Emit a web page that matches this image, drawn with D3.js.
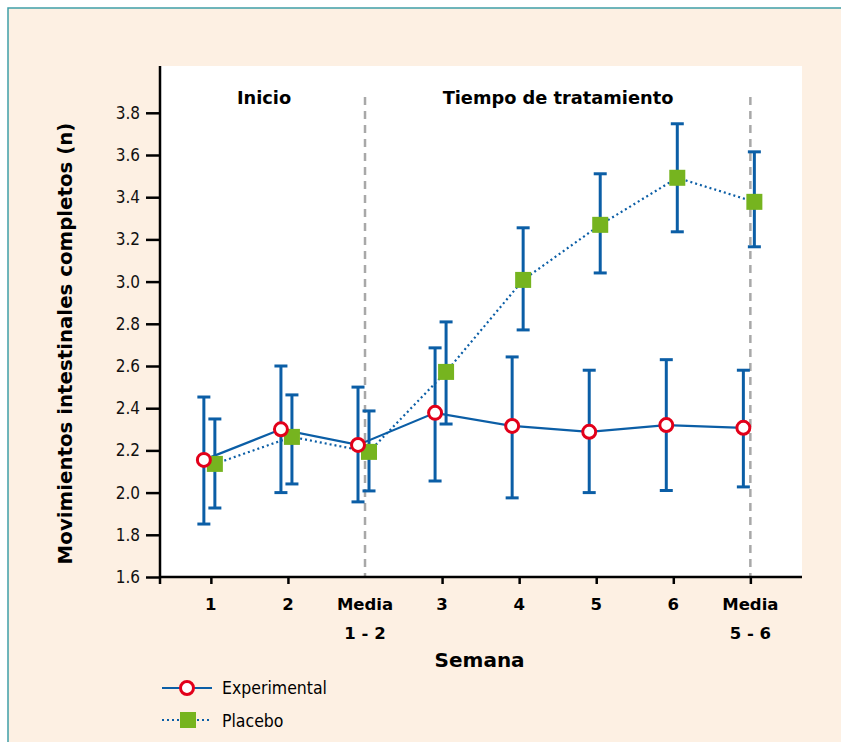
<!DOCTYPE html>
<html>
<head>
<meta charset="utf-8">
<script src="https://cdn.jsdelivr.net/npm/d3@7"></script>
<style>
  body { margin: 0; background: #fff; }
  text { font-family: "DejaVu Sans", sans-serif; }
</style>
</head>
<body>
<svg id="chart" width="841" height="742"></svg>
<script>
// Data
let categories = ["1", "2", "Media|1 - 2", "3", "4", "5", "6", "Media|5 - 6"];
let expMean = [2.155, 2.30, 2.226, 2.378, 2.316, 2.288, 2.32, 2.307];
let expLow  = [1.851, 2.00, 1.956, 2.055, 1.975, 2.00, 2.01, 2.027];
let expHigh = [2.453, 2.60, 2.50, 2.686, 2.643, 2.58, 2.63, 2.58];
let plaMean = [2.136, 2.264, 2.193, 2.572, 3.008, 3.269, 3.492, 3.378];
let plaLow  = [1.927, 2.041, 2.008, 2.325, 2.771, 3.041, 3.236, 3.165];
let plaHigh = [2.349, 2.463, 2.387, 2.809, 3.255, 3.511, 3.748, 3.615];
let yTicks = [1.6, 1.8, 2.0, 2.2, 2.4, 2.6, 2.8, 3.0, 3.2, 3.4, 3.6, 3.8];

// Layout
let plot = { left: 160, right: 802, top: 66, bottom: 577 };
let blue = "#0b5ea6", green = "#76b41f", red = "#e2001a";
let condensed = "'DejaVu Sans Condensed', 'DejaVu Sans', sans-serif";

let svg = d3.select("#chart");

// frame
svg.append("rect").attr("x", 8).attr("y", 8).attr("width", 840).attr("height", 740)
    .attr("fill", "#fdf0e3").attr("stroke", "#3f9ea8").attr("stroke-width", 1.5);
svg.append("rect").attr("x", plot.left).attr("y", plot.top)
    .attr("width", plot.right - plot.left).attr("height", plot.bottom - plot.top)
    .attr("fill", "#fff");

let x = d3.scaleLinear().domain([-0.66, 7.67]).range([plot.left, plot.right]);
let y = d3.scaleLinear().domain([1.6, 3.8]).range([plot.bottom, 112.8]);

// dashed separators
[2, 7].forEach(i => {
    svg.append("line")
        .attr("x1", x(i)).attr("x2", x(i)).attr("y1", 97).attr("y2", plot.bottom)
        .attr("stroke", "#a8a8a8").attr("stroke-width", 2.5).attr("stroke-dasharray", "8,6");
});

// Y axis
let yAxis = svg.append("g").attr("transform", `translate(${plot.left},0)`)
    .call(d3.axisLeft(y).tickValues(yTicks).tickFormat(d3.format(".1f")).tickSize(14).tickPadding(6));
yAxis.select(".domain").attr("d", `M0,${plot.top}V${plot.bottom + 7}`).attr("stroke-width", 2.5);
yAxis.selectAll(".tick line").attr("stroke-width", 2.5);
yAxis.selectAll(".tick text").attr("font-size", 17).attr("fill", "#111")
    .style("font-family", condensed);

// X axis
let xAxis = svg.append("g").attr("transform", `translate(0,${plot.bottom})`)
    .call(d3.axisBottom(x).tickValues(d3.range(categories.length)).tickFormat("").tickSize(7));
xAxis.select(".domain").attr("d", `M${plot.left},0H${plot.right}`).attr("stroke-width", 2.5);
xAxis.selectAll(".tick line").attr("stroke-width", 2.5)
    .attr("opacity", (d, i) => i === 2 ? 0 : 1);
categories.forEach((c, i) => {
    let parts = c.split("|");
    parts.forEach((p, j) => {
        svg.append("text").attr("x", x(i)).attr("y", 610 + j * 29)
            .attr("text-anchor", "middle").attr("font-size", 16.5).attr("font-weight", "bold")
            .text(p);
    });
});

// Axis titles
svg.append("text").attr("x", x(3.5) - 1).attr("y", 667).attr("text-anchor", "middle")
    .attr("font-size", 20).attr("font-weight", "bold").text("Semana");
svg.append("text").attr("transform", `translate(72,${(plot.top + plot.bottom) / 2 + 22}) rotate(-90)`)
    .attr("text-anchor", "middle").attr("font-size", 19.8).attr("font-weight", "bold")
    .text("Movimientos intestinales completos (n)");

// section titles
svg.append("text").attr("x", 264).attr("y", 104).attr("text-anchor", "middle")
    .attr("font-size", 17.8).attr("font-weight", "bold").text("Inicio");
svg.append("text").attr("x", 558).attr("y", 104).attr("text-anchor", "middle")
    .attr("font-size", 17.8).attr("font-weight", "bold").text("Tiempo de tratamiento");

// series
function errorBars(mean, low, high, dx) {
    let g = svg.append("g");
    mean.forEach((m, i) => {
        let cx = x(i) + dx;
        g.append("line").attr("x1", cx).attr("x2", cx).attr("y1", y(low[i])).attr("y2", y(high[i]))
            .attr("stroke", blue).attr("stroke-width", 3);
        [low[i], high[i]].forEach(v => {
            g.append("line").attr("x1", cx - 6.5).attr("x2", cx + 6.5).attr("y1", y(v)).attr("y2", y(v))
                .attr("stroke", blue).attr("stroke-width", 3);
        });
    });
}
let line = d3.line();

errorBars(expMean, expLow, expHigh, -7);
errorBars(plaMean, plaLow, plaHigh, 4);

svg.append("path")
    .attr("d", line(expMean.map((m, i) => [x(i) - 7, y(m)])))
    .attr("fill", "none").attr("stroke", blue).attr("stroke-width", 2.2);
svg.append("path")
    .attr("d", line(plaMean.map((m, i) => [x(i) + 4, y(m)])))
    .attr("fill", "none").attr("stroke", blue).attr("stroke-width", 2.2).attr("stroke-dasharray", "2,3");

svg.selectAll(".sq").data(plaMean).join("rect")
    .attr("x", (d, i) => x(i) + 4 - 8).attr("y", d => y(d) - 8)
    .attr("width", 16).attr("height", 16).attr("fill", green);
svg.selectAll(".ci").data(expMean).join("circle")
    .attr("cx", (d, i) => x(i) - 7).attr("cy", d => y(d)).attr("r", 6.5)
    .attr("fill", "#fff").attr("stroke", red).attr("stroke-width", 3);

// legend
let leg = svg.append("g");
leg.append("line").attr("x1", 162).attr("x2", 212).attr("y1", 688).attr("y2", 688)
    .attr("stroke", blue).attr("stroke-width", 2.2);
leg.append("circle").attr("cx", 187).attr("cy", 688).attr("r", 6.5)
    .attr("fill", "#fff").attr("stroke", red).attr("stroke-width", 3);
leg.append("text").attr("x", 222).attr("y", 694).attr("font-size", 17.5)
    .style("font-family", condensed).text("Experimental");
leg.append("line").attr("x1", 162).attr("x2", 212).attr("y1", 720).attr("y2", 720)
    .attr("stroke", blue).attr("stroke-width", 2.2).attr("stroke-dasharray", "2,3");
leg.append("rect").attr("x", 180).attr("y", 712).attr("width", 16).attr("height", 16).attr("fill", green);
leg.append("text").attr("x", 222).attr("y", 727).attr("font-size", 17.5)
    .style("font-family", condensed).text("Placebo");
</script>
</body>
</html>
